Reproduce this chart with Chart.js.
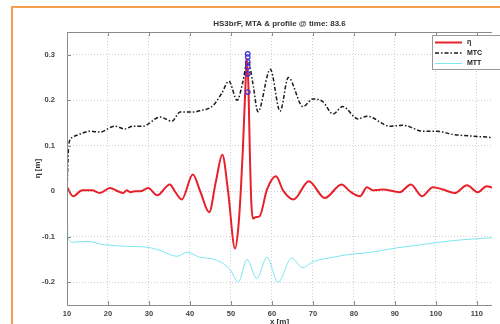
<!DOCTYPE html>
<html>
<head>
<meta charset="utf-8">
<script src="https://cdn.jsdelivr.net/npm/chart.js@4.4.1/dist/chart.umd.min.js"></script>
<style>
  html, body { margin: 0; padding: 0; background: #fff; overflow: hidden; }
  #wrap { position: relative; width: 500px; height: 324px; overflow: hidden; }
  #frame { position: absolute; left: 11px; top: 6px; width: 600px; height: 400px; border: 2px solid #f6a04d; box-sizing: border-box; pointer-events: none; }
  canvas { position: absolute; left: 0; top: 0; }
</style>
</head>
<body>
<div id="wrap">
  <canvas id="chart" width="500" height="334"></canvas>
  <div id="frame"></div>
</div>
<script>
const xTicks = [10, 20, 30, 40, 50, 60, 70, 80, 90, 100, 110];
const yTicks = [-0.2, -0.1, 0, 0.1, 0.2, 0.3];
const yTickLabels = ["-0.2", "-0.1", "0", "0.1", "0.2", "0.3"];

// eta profile (red)
const etaX = [10, 11.5, 13.7, 16.1, 18, 20.5, 22.4, 23.7, 24.6, 25.4, 26.6, 28, 29.8, 32, 35.1, 36.3, 38, 40.7, 42.5, 44.7,
  46.3, 47.9, 49.3, 51, 51.8, 52.4, 52.9, 53.4, 53.9, 54.3, 54.6, 55, 55.4, 56, 57, 58.8, 61, 62.7, 65.3, 69,
  72.9, 77, 79, 81.5, 83.2, 84.6, 87, 91.2, 93.9, 96.6, 99.3, 101.7, 104.6, 107.6, 110.2, 112.4, 113.8];
const etaY = [0.009, -0.011, 0.002, 0.002, -0.004, 0.007, 0, -0.004, 0.002, -0.002, 0, 0, 0.007, -0.009, 0.015, 0, -0.018, 0.037, 0, -0.046,
  0.02, 0.08, 0, -0.126, -0.08, 0, 0.09, 0.2, 0.29, 0.22, 0.09, -0.03, -0.06, -0.057, -0.055, 0.004, 0.033, 0.002, -0.018, 0.022,
  -0.015, 0.015, 0, -0.011, 0.009, 0.002, 0.004, -0.002, 0.015, -0.011, 0.009, 0.004, -0.004, 0.013, -0.002, 0.011, 0.008];

// MTC (mean crest, black dash-dot)
const mtcX = [10, 10.4, 11.2, 13, 15.6, 18, 21.7, 24.1, 26, 28.5, 32.7, 35.6, 37.6, 40.7, 42.4, 45.6, 47.8, 49.5, 51.5, 52.9,
  54.1, 55.3, 56.6, 59.6, 62, 64, 67.6, 70, 72.4, 74.9, 77.3, 81, 83.2, 88.8, 92, 96.8, 100.2, 104.1, 109, 112.4, 113.8];
const mtcY = [0, 0.1, 0.118, 0.125, 0.132, 0.13, 0.143, 0.137, 0.143, 0.143, 0.163, 0.154, 0.174, 0.174, 0.177, 0.188, 0.216, 0.242, 0.2, 0.24,
  0.29, 0.24, 0.175, 0.268, 0.176, 0.25, 0.186, 0.203, 0.197, 0.17, 0.186, 0.159, 0.165, 0.143, 0.145, 0.132, 0.132, 0.125, 0.121, 0.119, 0.118];

// MTT (mean trough, cyan)
const mttX = [10, 10.2, 11.5, 14.9, 18.8, 24.6, 29.5, 32.7, 36.8, 39.3, 42.4, 46, 49.8, 51.8, 53.9, 56.3, 58.8, 61.5, 64.8, 67.5,
  70, 75, 78, 80, 85, 90, 96, 100, 106, 112.4, 113.8];
const mttY = [0, -0.1, -0.112, -0.11, -0.117, -0.121, -0.123, -0.13, -0.143, -0.134, -0.145, -0.15, -0.172, -0.2, -0.15, -0.192, -0.145, -0.2, -0.147, -0.168,
  -0.155, -0.145, -0.14, -0.138, -0.133, -0.125, -0.118, -0.113, -0.107, -0.103, -0.102];

// blue markers on the crest
const peakX = [54.1, 54.1, 54.1, 54.1, 54.1, 54.1];
const peakY = [0.302, 0.295, 0.284, 0.273, 0.258, 0.218];

function toPoints(xs, ys) {
  return xs.map((x, i) => ({ x: x, y: ys[i] }));
}

const tickFont = { family: "'Liberation Sans', Arial, sans-serif", size: 7.5, weight: "bold" };

const boxPlugin = {
  id: "boxPlugin",
  afterDraw(chart) {
    const ctx = chart.ctx;
    const a = chart.chartArea;
    const xs = chart.scales.x;
    const ys = chart.scales.y;
    ctx.save();
    ctx.strokeStyle = "#8c8c8c";
    ctx.lineWidth = 1;
    ctx.beginPath();
    ctx.moveTo(Math.round(a.left) + 0.5, a.top);
    ctx.lineTo(Math.round(a.left) + 0.5, a.bottom);
    ctx.moveTo(a.left, Math.round(a.bottom) + 0.5);
    ctx.lineTo(a.right, Math.round(a.bottom) + 0.5);
    ctx.moveTo(a.left, Math.round(a.top) + 0.5);
    ctx.lineTo(a.right, Math.round(a.top) + 0.5);
    // inward tick marks
    xTicks.forEach((v) => {
      const px = Math.round(xs.getPixelForValue(v)) + 0.5;
      ctx.moveTo(px, a.bottom);
      ctx.lineTo(px, a.bottom - 4);
      ctx.moveTo(px, a.top);
      ctx.lineTo(px, a.top + 4);
    });
    yTicks.forEach((v) => {
      const py = Math.round(ys.getPixelForValue(v)) + 0.5;
      ctx.moveTo(a.left, py);
      ctx.lineTo(a.left + 4, py);
    });
    ctx.stroke();

    // legend box (top right, inside plot)
    const lx = 432.5, ly = 35.5;
    ctx.fillStyle = "#fff";
    ctx.fillRect(lx, ly, 80, 34);
    ctx.strokeStyle = "#999";
    ctx.strokeRect(lx, ly, 80, 34);
    const rows = [
      { label: "η", color: "#e8202a", width: 2, dash: [] },
      { label: "MTC", color: "#1a1a1a", width: 1.3, dash: [4, 2, 1.5, 2] },
      { label: "MTT", color: "rgba(110,228,240,0.9)", width: 1, dash: [] },
    ];
    ctx.font = "bold 7px 'Liberation Sans', Arial, sans-serif";
    ctx.textBaseline = "middle";
    rows.forEach((r, i) => {
      const y = ly + 7 + i * 10.5;
      ctx.strokeStyle = r.color;
      ctx.lineWidth = r.width;
      ctx.setLineDash(r.dash);
      ctx.beginPath();
      ctx.moveTo(435, y);
      ctx.lineTo(462, y);
      ctx.stroke();
      ctx.setLineDash([]);
      ctx.fillStyle = "#222";
      ctx.fillText(r.label, 467, y);
    });
    ctx.restore();
  },
};

const config = {
  type: "line",
  data: {
    datasets: [
      {
        label: "peaks",
        data: toPoints(peakX, peakY),
        showLine: false,
        pointRadius: 2.3,
        pointBorderWidth: 1.2,
        pointBorderColor: "#3b2fd4",
        pointBackgroundColor: "rgba(0,0,0,0)",
      },
      {
        label: "η",
        data: toPoints(etaX, etaY),
        borderColor: "#e8202a",
        borderWidth: 2,
        pointRadius: 0,
        cubicInterpolationMode: "monotone",
      },
      {
        label: "MTC",
        data: toPoints(mtcX, mtcY),
        borderColor: "#1a1a1a",
        borderWidth: 1.5,
        borderDash: [4, 2, 1.5, 2],
        pointRadius: 0,
        cubicInterpolationMode: "monotone",
      },
      {
        label: "MTT",
        data: toPoints(mttX, mttY),
        borderColor: "rgba(110,228,240,0.9)",
        borderWidth: 1,
        pointRadius: 0,
        cubicInterpolationMode: "monotone",
      },
    ],
  },
  options: {
    responsive: false,
    animation: false,
    layout: { padding: { left: 0, right: 8, top: 0, bottom: 0 } },
    plugins: {
      legend: { display: false },
      tooltip: { enabled: false },
      title: {
        display: true,
        fullSize: false,
        text: "HS3brF, MTA & profile @ time: 83.6",
        color: "#333",
        font: { family: "'Liberation Sans', Arial, sans-serif", size: 8, weight: "bold" },
        padding: { top: 19, bottom: 3.4 },
      },
    },
    scales: {
      x: {
        type: "linear",
        min: 10,
        max: 113.7,
        afterBuildTicks: (s) => { s.ticks = xTicks.map((v) => ({ value: v })); },
        afterFit: (s) => { s.height = 29; },
        ticks: { font: tickFont, color: "#444", padding: 4, maxRotation: 0, autoSkip: false },
        grid: { color: "#cfcfcf", drawTicks: false },
        border: { display: false, dash: [1, 2] },
        title: {
          display: true,
          text: "x [m]",
          color: "#333",
          font: { family: "'Liberation Sans', Arial, sans-serif", size: 8, weight: "bold" },
          padding: { top: 0, bottom: 7 },
        },
      },
      y: {
        min: -0.25,
        max: 0.35,
        afterBuildTicks: (s) => { s.ticks = yTicks.map((v) => ({ value: v })); },
        afterFit: (s) => { s.width = 67; },
        ticks: {
          font: tickFont,
          color: "#444",
          padding: 12,
          callback: (v, i) => yTickLabels[i],
        },
        grid: { color: "#cfcfcf", drawTicks: false },
        border: { display: false, dash: [1, 2] },
        title: {
          display: true,
          text: "η [m]",
          color: "#333",
          font: { family: "'Liberation Sans', Arial, sans-serif", size: 8, weight: "bold" },
          padding: { top: 33, bottom: 0 },
        },
      },
    },
  },
  plugins: [boxPlugin],
};

const chart = new Chart(document.getElementById("chart").getContext("2d"), config);
</script>
</body>
</html>
